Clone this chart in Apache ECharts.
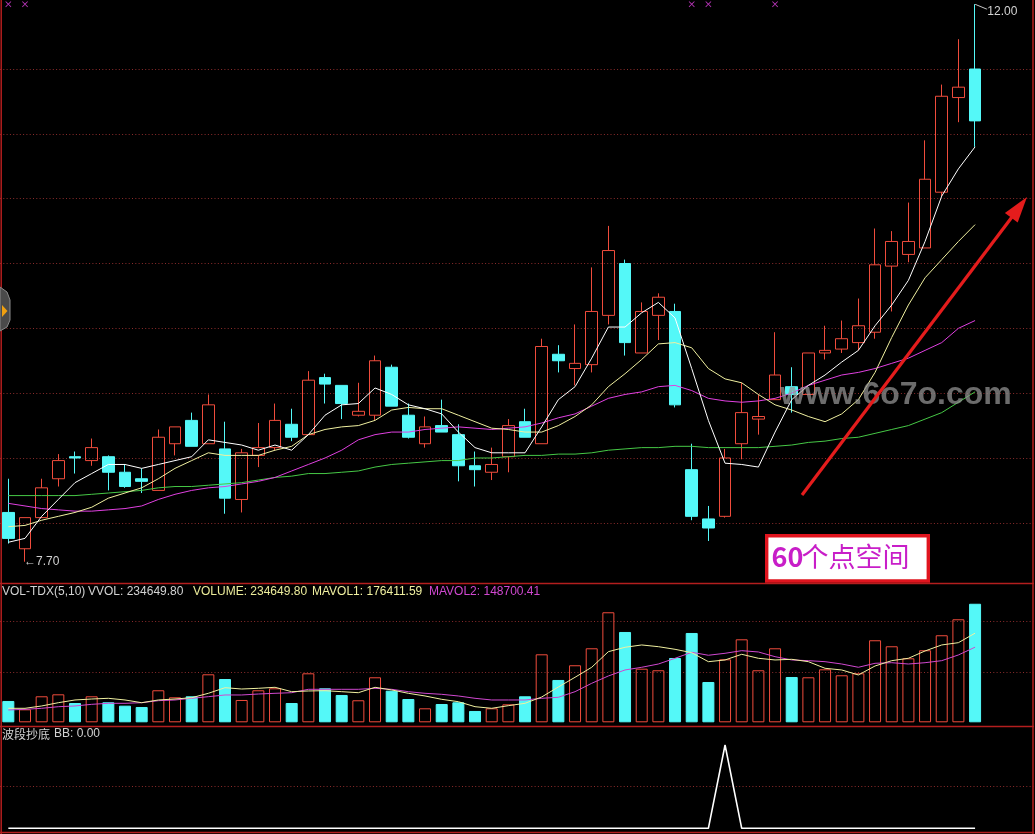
<!DOCTYPE html>
<html>
<head>
<meta charset="utf-8">
<script src="https://cdn.jsdelivr.net/npm/echarts@6/dist/echarts.min.js"></script>
<style>
html,body{margin:0;padding:0;background:#000;}
#c{width:1035px;height:834px;}
</style>
</head>
<body>
<div id="c"></div>
<script>
// daily candles: [open, close, low, high]
const ohlc = [
[8.08,7.88,7.84,8.34],[7.80,8.04,7.70,8.04],[8.04,8.27,8.04,8.34],[8.34,8.48,8.28,8.53],[8.51,8.50,8.38,8.55],
[8.48,8.58,8.44,8.65],[8.51,8.39,8.25,8.52],[8.39,8.28,8.27,8.45],[8.34,8.32,8.23,8.42],[8.25,8.66,8.25,8.72],
[8.61,8.74,8.52,8.74],[8.79,8.59,8.59,8.85],[8.61,8.91,8.61,8.99],[8.57,8.19,8.07,8.78],[8.18,8.54,8.08,8.57],
[8.52,8.58,8.43,8.77],[8.58,8.79,8.56,8.92],[8.76,8.66,8.63,8.88],[8.68,9.10,8.68,9.17],[9.12,9.07,8.92,9.15],
[9.06,8.92,8.80,9.06],[8.83,8.86,8.82,9.08],[8.83,9.25,8.79,9.29],[9.20,8.90,8.90,9.22],[8.83,8.66,8.65,8.92],
[8.61,8.74,8.58,8.82],[8.75,8.70,8.70,8.95],[8.68,8.44,8.32,8.76],[8.44,8.41,8.28,8.55],[8.39,8.45,8.33,8.58],
[8.51,8.75,8.39,8.80],[8.78,8.66,8.66,8.88],[8.61,9.36,8.61,9.42],[9.30,9.25,9.16,9.37],[9.19,9.23,9.06,9.53],
[9.22,9.63,9.16,9.97],[9.60,10.10,9.53,10.29],[10.00,9.39,9.29,10.03],[9.31,9.63,9.31,9.70],[9.60,9.74,9.41,9.77],
[9.63,8.91,8.89,9.69],[8.41,8.05,8.02,8.61],[8.03,7.96,7.86,8.13],[8.05,8.50,8.04,8.57],[8.61,8.85,8.49,9.08],
[8.80,8.82,8.68,8.99],[8.95,9.14,8.95,9.47],[9.05,8.99,8.85,9.20],[8.99,9.31,8.99,9.31],[9.31,9.33,9.26,9.52],
[9.34,9.42,9.31,9.56],[9.39,9.52,9.33,9.73],[9.47,9.99,9.42,10.27],[9.98,10.17,9.63,10.25],[10.07,10.17,10.01,10.47],
[10.12,10.65,10.12,10.95],[10.55,11.29,10.52,11.38],[11.28,11.36,11.09,11.73],[11.50,11.10,10.90,12.00]
];
const ma5 = [7.85,7.88,8.05,8.18,8.31,8.38,8.45,8.45,8.42,8.45,8.48,8.51,8.64,8.62,8.60,8.56,8.60,8.56,8.68,8.83,
8.91,8.92,9.04,8.99,8.91,8.88,8.84,8.70,8.58,8.54,8.54,8.54,8.74,8.95,9.05,9.27,9.51,9.51,9.62,9.70,
9.58,9.19,8.79,8.46,8.45,8.43,8.70,8.95,9.06,9.14,9.24,9.33,9.52,9.68,9.87,10.17,10.52,10.73,10.90];
const ma10 = [7.97,7.98,8.02,8.05,8.08,8.12,8.19,8.23,8.27,8.34,8.42,8.48,8.54,8.52,8.52,8.52,8.56,8.59,8.68,8.72,
8.74,8.75,8.79,8.87,8.89,8.88,8.88,8.83,8.78,8.73,8.72,8.70,8.70,8.75,8.82,8.91,9.05,9.15,9.26,9.38,
9.39,9.35,9.19,9.11,9.08,8.99,8.91,8.87,8.82,8.78,8.84,8.95,9.16,9.43,9.68,9.89,10.03,10.17,10.30];
const ma20 = [8.15,8.13,8.11,8.10,8.09,8.09,8.10,8.11,8.13,8.18,8.22,8.25,8.27,8.28,8.30,8.32,8.35,8.40,8.45,8.50,
8.56,8.64,8.68,8.70,8.70,8.72,8.73,8.74,8.73,8.72,8.73,8.74,8.77,8.81,8.84,8.90,8.96,8.99,9.01,9.05,
9.06,9.02,8.96,8.94,8.93,8.94,8.96,9.00,9.06,9.10,9.14,9.16,9.19,9.23,9.27,9.33,9.39,9.50,9.56];
const ma60 = [8.21,8.21,8.21,8.21,8.21,8.22,8.23,8.24,8.25,8.27,8.28,8.28,8.29,8.30,8.31,8.33,8.35,8.36,8.38,8.38,
8.39,8.40,8.43,8.45,8.46,8.47,8.48,8.48,8.50,8.50,8.51,8.52,8.52,8.53,8.53,8.54,8.56,8.57,8.58,8.58,
8.59,8.59,8.58,8.58,8.58,8.58,8.59,8.60,8.62,8.63,8.65,8.66,8.69,8.72,8.75,8.80,8.85,8.93,9.01];
const volume = [42200,25700,51500,55400,38200,51500,39600,32900,30300,63400,49500,51500,95000,85700,44200,63400,67300,38200,97000,67300,
54100,43600,89100,62600,46100,27700,36200,39600,22400,27700,35600,51500,134600,83800,112900,146500,217800,178800,106100,103000,
127300,176800,79800,124700,164300,103000,146500,89700,89100,104900,93100,97000,162400,150500,126700,142600,172300,203900,234649.80];
const mavol1 = [27700,27700,32300,38800,44200,46100,47500,44200,38800,44200,46100,48700,57400,68500,65900,67300,69300,60600,62000,62600,
60600,58600,69300,64000,57400,52100,45500,40800,30900,27700,32900,37600,50100,69900,89100,108900,139800,148500,153100,149700,
144500,137800,120000,123400,134600,126700,123400,124700,120000,106900,103600,93700,111500,122000,126700,141200,153100,157600,176411.59];
const mavol2 = [24400,25700,27700,30900,32300,35600,37600,37600,38800,42800,44200,47500,50700,54100,54100,56000,57400,58600,65300,65300,
65300,65300,67300,65300,60600,57400,55400,52100,47500,44200,44200,44200,47500,49500,60600,77200,91700,103600,108900,115400,
126700,138600,132700,136600,141800,139200,129900,123400,122000,120000,115400,108900,116800,118000,115400,118000,122000,133300,148700.41];
const bb = [0,0,0,0,0,0,0,0,0,0,0,0,0,0,0,0,0,0,0,0,0,0,0,0,0,0,0,0,0,0,
0,0,0,0,0,0,0,0,0,0,0,0,0,100,0,0,0,0,0,0,0,0,0,0,0,0,0,0,0];
const topSignals = [0,1,41,42,46];
const days = ohlc.map((_, i) => String(i + 1));

const UP = '#f04c3c', DN = '#54f8f8', GRIDC = '#8c2c2c', BORDER = '#b41e1e';
const TXT = '#d2d2d2';
const FONT = '"Liberation Sans", Arial, sans-serif';
const CJK = '"Noto Sans CJK SC", sans-serif';

const hiIdx = ohlc.reduce((b, d, i) => d[3] > ohlc[b][3] ? i : b, 0);
const loIdx = ohlc.reduce((b, d, i) => d[2] < ohlc[b][2] ? i : b, 0);

const volData = volume.map((v, i) => {
  const up = ohlc[i][1] >= ohlc[i][0];
  return {value: v, itemStyle: up ? {color: 'rgba(0,0,0,0)', borderColor: UP, borderWidth: 1} : {color: DN, borderColor: DN, borderWidth: 1}};
});

const W = 1033.4;
const dotted = {show: true, showMinLine: false, showMaxLine: false, lineStyle: {color: GRIDC, type: [1, 2.3], width: 1}};
const hiddenValAxis = (grid, extra) => Object.assign({
  type: 'value', gridIndex: grid, axisLine: {show: false}, axisTick: {show: false}, axisLabel: {show: false}
}, extra);

const lineS = (x, y, data, color, w) => ({
  type: 'line', xAxisIndex: x, yAxisIndex: y, data: data, symbol: 'none', smooth: false,
  lineStyle: {color: color, width: w || 1}, itemStyle: {color: color}, silent: true
});

const option = {
  backgroundColor: '#000',
  animation: false,
  grid: [
    {left: 0, top: 4.2, width: W, height: 579.3},
    {left: 0, top: 585.9, width: W, height: 136.4},
    {left: 0, top: 745, width: W, height: 83.3}
  ],
  xAxis: [0, 1, 2].map(g => ({type: 'category', gridIndex: g, data: days, boundaryGap: true, max: 61, show: false})),
  yAxis: [
    {type: 'value', gridIndex: 0, min: 7.532, max: 12.0, show: false},
    hiddenValAxis(0, {inverse: true, min: 0, max: 8.934, interval: 1, splitLine: dotted}),
    hiddenValAxis(1, {min: 0, max: 270000, interval: 100000, splitLine: dotted}),
    hiddenValAxis(2, {min: 0, max: 100, interval: 50, splitLine: dotted})
  ],
  series: [
    {
      type: 'candlestick', xAxisIndex: 0, yAxisIndex: 0, data: ohlc, barWidth: 12, silent: true,
      itemStyle: {color: 'rgba(0,0,0,0)', color0: DN, borderColor: UP, borderColor0: DN, borderWidth: 1},
      markPoint: {
        silent: true,
        data: [
          {coord: [hiIdx, ohlc[hiIdx][3]], symbol: 'path://M0,0L12,5', symbolSize: [12, 5], symbolOffset: [6, 2.5],
           itemStyle: {color: 'rgba(0,0,0,0)', borderColor: '#cfcfcf', borderWidth: 1},
           label: {show: true, position: [13, 7.8], align: 'left', verticalAlign: 'middle',
                   formatter: ohlc[hiIdx][3].toFixed(2), color: TXT, fontSize: 12, fontFamily: FONT}},
          {coord: [loIdx, ohlc[loIdx][2]], symbol: 'circle', symbolSize: 1,
           itemStyle: {color: 'rgba(0,0,0,0)'},
           label: {show: true, position: [-0.5, 0.5], align: 'left', verticalAlign: 'middle',
                   formatter: '\u2190' + ohlc[loIdx][2].toFixed(2), color: TXT, fontSize: 12, fontFamily: FONT}}
        ]
      }
    },
    lineS(0, 0, ma60, '#46c846'),
    lineS(0, 0, ma20, '#e040e0'),
    lineS(0, 0, ma10, '#f0f0a0'),
    lineS(0, 0, ma5, '#ffffff'),
    {
      type: 'scatter', xAxisIndex: 0, yAxisIndex: 1, silent: true,
      data: topSignals.map(i => [i, 0]),
      symbol: 'path://M0,1L1,0L5,4L9,0L10,1L6,5L10,9L9,10L5,6L1,10L0,9L4,5Z', symbolSize: 6,
      itemStyle: {color: '#e040e0'}
    },
    {type: 'bar', xAxisIndex: 1, yAxisIndex: 2, data: volData, barWidth: 12, silent: true},
    lineS(1, 2, mavol2, '#d048d0'),
    lineS(1, 2, mavol1, '#f0f0a0'),
    lineS(2, 3, bb, '#ffffff', 1.6)
  ],
  graphic: [
    {type: 'line', z: 50, shape: {x1: 0, y1: 583.5, x2: 1034, y2: 583.5}, style: {stroke: BORDER, lineWidth: 1.5}},
    {type: 'line', z: 50, shape: {x1: 0, y1: 726.5, x2: 1034, y2: 726.5}, style: {stroke: BORDER, lineWidth: 1.5}},
    {type: 'line', z: 50, shape: {x1: 0, y1: 832.5, x2: 1034, y2: 832.5}, style: {stroke: BORDER, lineWidth: 1.5}},
    {type: 'line', z: 50, shape: {x1: 1.2, y1: 0, x2: 1.2, y2: 834}, style: {stroke: BORDER, lineWidth: 1.5}},
    {type: 'line', z: 50, shape: {x1: 1033, y1: 0, x2: 1033, y2: 834}, style: {stroke: BORDER, lineWidth: 1.5}},
    {type: 'polygon', z: 60, shape: {points: [[0, 287], [7, 292], [10, 300], [10, 320], [7, 327], [0, 331]]},
     style: {fill: '#4a4a4a', stroke: '#8a8a8a', lineWidth: 1}},
    {type: 'polygon', z: 61, shape: {points: [[2, 305], [7.5, 311], [2, 317]]}, style: {fill: '#f0a010'}},
    {type: 'text', z: 60, left: 2, top: 586, style: {text: 'VOL-TDX(5,10)', fill: TXT, font: '12px ' + FONT}},
    {type: 'text', z: 60, left: 88, top: 586, style: {text: 'VVOL: ' + volume[volume.length - 1].toFixed(2), fill: TXT, font: '12px ' + FONT}},
    {type: 'text', z: 60, left: 193, top: 586, style: {text: 'VOLUME: ' + volume[volume.length - 1].toFixed(2), fill: '#ecec9a', font: '12px ' + FONT}},
    {type: 'text', z: 60, left: 312, top: 586, style: {text: 'MAVOL1: ' + mavol1[mavol1.length - 1].toFixed(2), fill: '#f0f0a0', font: '12px ' + FONT}},
    {type: 'text', z: 60, left: 429, top: 586, style: {text: 'MAVOL2: ' + mavol2[mavol2.length - 1].toFixed(2), fill: '#d048d0', font: '12px ' + FONT}},
    {type: 'text', z: 60, left: 2, top: 728, style: {text: '波段抄底', fill: TXT, font: '12px ' + CJK}},
    {type: 'text', z: 60, left: 54, top: 728, style: {text: 'BB: ' + bb[bb.length - 1].toFixed(2), fill: TXT, font: '12px ' + FONT}},
    {type: 'text', z: 90, left: 780, top: 379, style: {text: 'www.6o7o.com', fill: 'rgba(150,150,150,0.72)', font: 'bold 32px ' + FONT}},
    {type: 'line', z: 95, shape: {x1: 802, y1: 495, x2: 1012, y2: 217}, style: {stroke: '#e41c1c', lineWidth: 3.2}},
    {type: 'polygon', z: 95, shape: {points: [[1027, 197], [1017.7, 222.5], [1004.9, 212.9]]}, style: {fill: '#e41c1c'}},
    {type: 'rect', z: 100, shape: {x: 766.7, y: 535.7, width: 161.6, height: 45.3}, style: {fill: '#ffffff', stroke: '#e0141e', lineWidth: 3.4}},
    {type: 'text', z: 101, left: 771.5, top: 543, style: {text: '60', fill: '#c81ec8', font: 'bold 27px ' + CJK}},
    {type: 'text', z: 101, left: 801.5, top: 543, style: {text: '个点空间', fill: '#c81ec8', font: '27px ' + CJK}}
  ]
};

const chart = echarts.init(document.getElementById('c'));
chart.setOption(option);
</script>
</body>
</html>
